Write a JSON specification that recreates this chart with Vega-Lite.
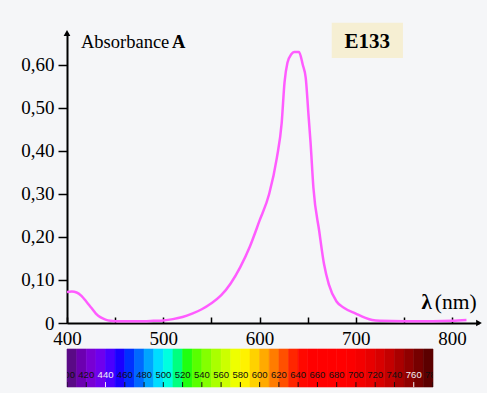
{
  "$schema": "https://vega.github.io/schema/vega-lite/v6.json",
  "background": "#f5f6f8",
  "padding": {"left": 20, "top": 22, "right": 5, "bottom": 5},
  "spacing": 0,
  "config": {"view": {"stroke": null}, "font": "Liberation Serif"},
  "datasets": {
    "spectrum": [
      {"nm": 400, "A": 0.072}, {"nm": 405, "A": 0.073}, {"nm": 410, "A": 0.071}, {"nm": 415, "A": 0.063},
      {"nm": 420, "A": 0.05}, {"nm": 425, "A": 0.036}, {"nm": 430, "A": 0.022}, {"nm": 435, "A": 0.013},
      {"nm": 440, "A": 0.008}, {"nm": 445, "A": 0.005}, {"nm": 450, "A": 0.004}, {"nm": 460, "A": 0.004},
      {"nm": 470, "A": 0.004}, {"nm": 480, "A": 0.004}, {"nm": 490, "A": 0.005}, {"nm": 500, "A": 0.006},
      {"nm": 510, "A": 0.009}, {"nm": 520, "A": 0.014}, {"nm": 530, "A": 0.022}, {"nm": 540, "A": 0.032},
      {"nm": 550, "A": 0.046}, {"nm": 560, "A": 0.064}, {"nm": 570, "A": 0.092}, {"nm": 580, "A": 0.13},
      {"nm": 590, "A": 0.178}, {"nm": 600, "A": 0.238}, {"nm": 610, "A": 0.3}, {"nm": 618, "A": 0.384},
      {"nm": 623, "A": 0.465}, {"nm": 626, "A": 0.56}, {"nm": 629, "A": 0.605}, {"nm": 633, "A": 0.625},
      {"nm": 636, "A": 0.63}, {"nm": 641, "A": 0.63}, {"nm": 645, "A": 0.6}, {"nm": 648, "A": 0.57},
      {"nm": 651, "A": 0.48}, {"nm": 653, "A": 0.42}, {"nm": 656, "A": 0.314}, {"nm": 662, "A": 0.214},
      {"nm": 667, "A": 0.137}, {"nm": 672, "A": 0.09}, {"nm": 680, "A": 0.05}, {"nm": 688, "A": 0.035},
      {"nm": 700, "A": 0.022}, {"nm": 710, "A": 0.012}, {"nm": 717, "A": 0.007}, {"nm": 725, "A": 0.005},
      {"nm": 750, "A": 0.004}, {"nm": 780, "A": 0.004}, {"nm": 800, "A": 0.005}, {"nm": 815, "A": 0.007}
    ],
    "bands": [
      {"lo": 400, "hi": 410}, {"lo": 410, "hi": 420}, {"lo": 420, "hi": 430}, {"lo": 430, "hi": 440},
      {"lo": 440, "hi": 450}, {"lo": 450, "hi": 460}, {"lo": 460, "hi": 470}, {"lo": 470, "hi": 480},
      {"lo": 480, "hi": 490}, {"lo": 490, "hi": 500}, {"lo": 500, "hi": 510}, {"lo": 510, "hi": 520},
      {"lo": 520, "hi": 530}, {"lo": 530, "hi": 540}, {"lo": 540, "hi": 550}, {"lo": 550, "hi": 560},
      {"lo": 560, "hi": 570}, {"lo": 570, "hi": 580}, {"lo": 580, "hi": 590}, {"lo": 590, "hi": 600},
      {"lo": 600, "hi": 610}, {"lo": 610, "hi": 620}, {"lo": 620, "hi": 630}, {"lo": 630, "hi": 640},
      {"lo": 640, "hi": 650}, {"lo": 650, "hi": 660}, {"lo": 660, "hi": 670}, {"lo": 670, "hi": 680},
      {"lo": 680, "hi": 690}, {"lo": 690, "hi": 700}, {"lo": 700, "hi": 710}, {"lo": 710, "hi": 720},
      {"lo": 720, "hi": 730}, {"lo": 730, "hi": 740}, {"lo": 740, "hi": 750}, {"lo": 750, "hi": 760},
      {"lo": 760, "hi": 770}, {"lo": 770, "hi": 780}
    ],
    "labels": [
      {"nm": 400}, {"nm": 420}, {"nm": 440}, {"nm": 460}, {"nm": 480}, {"nm": 500}, {"nm": 520},
      {"nm": 540}, {"nm": 560}, {"nm": 580}, {"nm": 600}, {"nm": 620}, {"nm": 640}, {"nm": 660},
      {"nm": 680}, {"nm": 700}, {"nm": 720}, {"nm": 740}, {"nm": 760}, {"nm": 780}
    ],
    "one": [{}]
  },
  "vconcat": [
    {
      "width": 412,
      "height": 290,
      "layer": [
        {
          "data": {"name": "one"},
          "mark": {"type": "rect", "color": "#f6efd3"},
          "encoding": {
            "x": {"datum": 675, "type": "quantitative"},
            "x2": {"datum": 749},
            "y": {"datum": 0.698, "type": "quantitative"},
            "y2": {"datum": 0.616}
          }
        },
        {
          "data": {"name": "spectrum"},
          "mark": {"type": "line", "color": "#ff5cff", "strokeWidth": 2.5, "interpolate": "monotone"},
          "encoding": {
            "x": {
              "field": "nm", "type": "quantitative",
              "scale": {"domain": [400, 828], "nice": false, "zero": false},
              "axis": {
                "title": null, "grid": false,
                "values": [400, 450, 500, 550, 600, 650, 700, 750, 800],
                "labelExpr": "datum.value % 100 === 0 ? datum.label : ''",
                "tickSize": -6, "tickWidth": 1.5, "tickColor": "black",
                "domainColor": "black", "domainWidth": 2,
                "labelFont": "Liberation Serif", "labelFontSize": 19, "labelColor": "black",
                "labelPadding": 12, "labelFlush": false, "labelOverlap": false
              }
            },
            "y": {
              "field": "A", "type": "quantitative",
              "scale": {"domain": [0, 0.6744], "nice": false},
              "axis": {
                "title": null, "grid": false,
                "values": [0, 0.1, 0.2, 0.3, 0.4, 0.5, 0.6],
                "labelExpr": "datum.value === 0 ? '0' : replace(format(datum.value, '.2f'), '.', ',')",
                "tickSize": 9, "tickWidth": 1.5, "tickColor": "black",
                "domainColor": "black", "domainWidth": 2,
                "labelFont": "Liberation Serif", "labelFontSize": 19, "labelColor": "black",
                "labelPadding": 4
              }
            }
          }
        },
        {
          "data": {"name": "one"},
          "mark": {"type": "point", "shape": "triangle-up", "filled": true, "color": "black", "size": 45, "opacity": 1},
          "encoding": {"x": {"datum": 400, "type": "quantitative"}, "y": {"datum": 0.6744, "type": "quantitative"}}
        },
        {
          "data": {"name": "one"},
          "mark": {"type": "point", "shape": "triangle-right", "filled": true, "color": "black", "size": 45, "opacity": 1},
          "encoding": {"x": {"datum": 828, "type": "quantitative"}, "y": {"datum": 0, "type": "quantitative"}}
        },
        {
          "data": {"name": "one"},
          "mark": {"type": "text", "text": "Absorbance", "align": "left", "baseline": "alphabetic", "font": "Liberation Serif", "fontSize": 18.5, "color": "black"},
          "encoding": {"x": {"datum": 414.5, "type": "quantitative"}, "y": {"datum": 0.64, "type": "quantitative"}}
        },
        {
          "data": {"name": "one"},
          "mark": {"type": "text", "text": "A", "align": "left", "baseline": "alphabetic", "font": "Liberation Serif", "fontSize": 18.5, "fontWeight": "bold", "color": "black"},
          "encoding": {"x": {"datum": 509, "type": "quantitative"}, "y": {"datum": 0.64, "type": "quantitative"}}
        },
        {
          "data": {"name": "one"},
          "mark": {"type": "text", "text": "E133", "align": "center", "baseline": "alphabetic", "font": "Liberation Serif", "fontSize": 21, "fontWeight": "bold", "color": "black"},
          "encoding": {"x": {"datum": 712, "type": "quantitative"}, "y": {"datum": 0.64, "type": "quantitative"}}
        },
        {
          "data": {"name": "one"},
          "mark": {"type": "text", "text": "λ", "align": "left", "baseline": "alphabetic", "font": "Liberation Serif", "fontSize": 21, "fontWeight": "bold", "color": "black"},
          "encoding": {"x": {"datum": 768.3, "type": "quantitative"}, "y": {"datum": 0.0326, "type": "quantitative"}}
        },
        {
          "data": {"name": "one"},
          "mark": {"type": "text", "text": "(nm)", "align": "left", "baseline": "alphabetic", "font": "Liberation Serif", "fontSize": 21.5, "color": "black"},
          "encoding": {"x": {"datum": 782.1, "type": "quantitative"}, "y": {"datum": 0.0326, "type": "quantitative"}}
        }
      ]
    },
    {
      "width": 366,
      "height": 38,
      "layer": [
        {
          "data": {"name": "bands"},
          "mark": {"type": "rect", "strokeWidth": 0.6},
          "encoding": {
            "x": {"field": "lo", "type": "quantitative", "scale": {"domain": [400, 780], "nice": false, "zero": false}, "axis": null},
            "x2": {"field": "hi"},
            "fill": {
              "field": "lo", "type": "ordinal", "legend": null,
              "scale": {
                "domain": [400,410,420,430,440,450,460,470,480,490,500,510,520,530,540,550,560,570,580,590,600,610,620,630,640,650,660,670,680,690,700,710,720,730,740,750,760,770],
                "range": ["#5a0a86","#6c00b0","#7800d4","#6e00ee","#4a00ff","#1a00ff","#0030ff","#0068ff","#00a4ff","#00dcff","#00ffe0","#00ff80","#20ff10","#58ff00","#84ff00","#aaff00","#ccff00","#eeff00","#fff200","#ffd200","#ffaa00","#ff7c00","#ff5000","#ff2600","#ff0800","#ff0000","#ff0000","#ff0000","#ff0000","#fc0000","#f40000","#e80000","#d80000","#c40000","#aa0000","#900000","#760000","#5c0000"]
              }
            },
            "stroke": {
              "field": "lo", "type": "ordinal", "legend": null,
              "scale": {
                "domain": [400,410,420,430,440,450,460,470,480,490,500,510,520,530,540,550,560,570,580,590,600,610,620,630,640,650,660,670,680,690,700,710,720,730,740,750,760,770],
                "range": ["#5a0a86","#6c00b0","#7800d4","#6e00ee","#4a00ff","#1a00ff","#0030ff","#0068ff","#00a4ff","#00dcff","#00ffe0","#00ff80","#20ff10","#58ff00","#84ff00","#aaff00","#ccff00","#eeff00","#fff200","#ffd200","#ffaa00","#ff7c00","#ff5000","#ff2600","#ff0800","#ff0000","#ff0000","#ff0000","#ff0000","#fc0000","#f40000","#e80000","#d80000","#c40000","#aa0000","#900000","#760000","#5c0000"]
              }
            }
          }
        },
        {
          "data": {"name": "labels"},
          "mark": {"type": "text", "font": "Liberation Sans", "fontSize": 9.5, "baseline": "middle", "align": "center", "clip": true},
          "encoding": {
            "x": {"field": "nm", "type": "quantitative"},
            "y": {"datum": 0.32, "type": "quantitative", "scale": {"domain": [0, 1], "nice": false}, "axis": null},
            "text": {"field": "nm", "type": "nominal"},
            "color": {"condition": {"test": "datum.nm === 440 || datum.nm === 760", "value": "#f4f0f4"}, "value": "#111111"}
          }
        },
        {
          "data": {"name": "labels"},
          "mark": {"type": "rule", "strokeWidth": 1, "clip": true},
          "encoding": {
            "x": {"field": "nm", "type": "quantitative"},
            "y": {"datum": 0, "type": "quantitative"},
            "y2": {"datum": 0.13},
            "color": {"condition": {"test": "datum.nm === 440 || datum.nm === 760", "value": "#f4f0f4"}, "value": "#111111"}
          }
        }
      ]
    }
  ]
}
